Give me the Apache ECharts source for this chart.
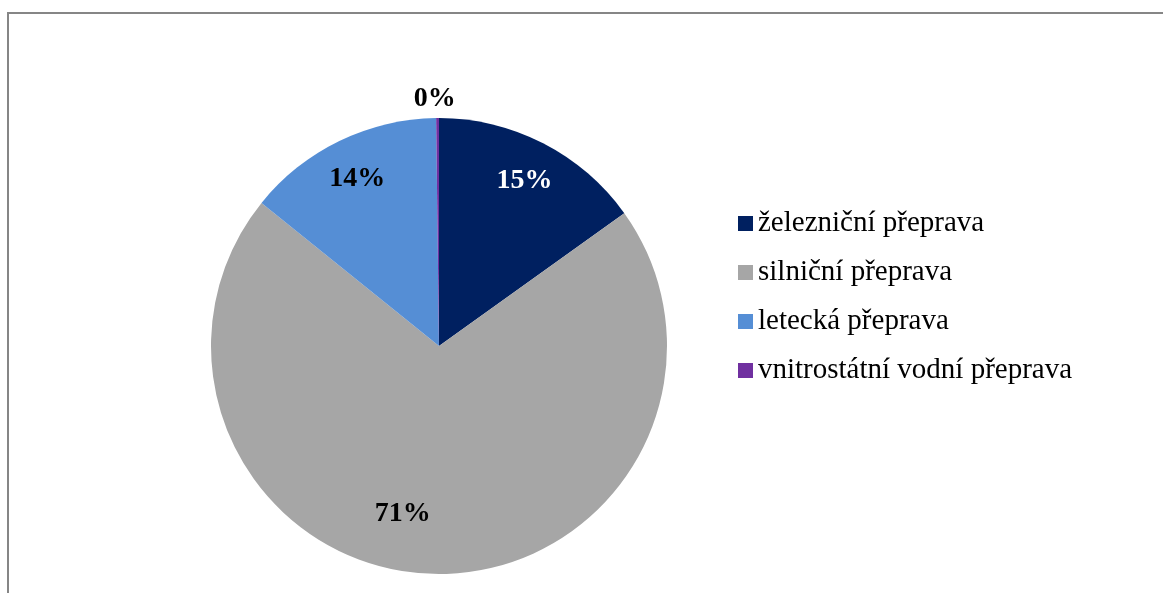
<!DOCTYPE html>
<html>
<head>
<meta charset="utf-8">
<script src="https://cdn.jsdelivr.net/npm/echarts@6/dist/echarts.min.js"></script>
<style>
  html, body { margin: 0; padding: 0; background: #fff; }
  #main { width: 1163px; height: 593px; }
</style>
</head>
<body>
<div id="main"></div>
<script>
// podíly druhů přepravy
const categories = ['železniční přeprava', 'silniční přeprava', 'letecká přeprava', 'vnitrostátní vodní přeprava'];
const values = [15.1, 70.7, 14.0, 0.2];
const colors = ['#002060', '#A6A6A6', '#558ED5', '#7030A0'];

const labelColors = ['#ffffff', '#000000', '#000000', '#000000'];
const labelOffsets = [[0, 1], [-31, -19], [0, 1], [-3, -60]];

let myChart = echarts.init(document.getElementById('main'));

const font = '"Liberation Serif", "Times New Roman", serif';

let option = {
  animation: false,
  graphic: [{
    type: 'rect',
    shape: { x: 8, y: 13, width: 1300, height: 800 },
    style: { fill: 'none', stroke: '#868686', lineWidth: 2 },
    silent: true
  }],
  legend: {
    orient: 'vertical',
    left: 733,
    top: 204,
    data: categories,
    icon: 'rect',
    itemWidth: 15,
    itemHeight: 15,
    itemGap: 20,
    textStyle: { fontFamily: font, fontSize: 29, color: '#000', lineHeight: 29 }
  },
  series: [
    {
      name: 'podíl',
      type: 'pie',
      center: [439, 346],
      radius: 228,
      startAngle: 90,
      clockwise: true,
      label: { show: false },
      labelLine: { show: false },
      itemStyle: { borderWidth: 0 },
      emphasis: { disabled: true },
      data: categories.map((c, i) => ({ name: c, value: values[i], itemStyle: { color: colors[i] } }))
    },
    {
      // průhledná vrstva jen pro popisky
      name: 'popisky',
      type: 'pie',
      center: [439, 346],
      radius: [140, 228],
      startAngle: 90,
      silent: true,
      legendHoverLink: false,
      itemStyle: { color: 'rgba(0,0,0,0)' },
      labelLine: { show: false },
      emphasis: { disabled: true },
      label: {
        show: true,
        position: 'inside',
        fontFamily: font,
        fontWeight: 'bold',
        fontSize: 28,
        formatter: p => Math.round(p.percent) + '%'
      },
      data: categories.map((c, i) => ({
        name: c + ' ',
        value: values[i],
        label: { color: labelColors[i], offset: labelOffsets[i] }
      }))
    }
  ]
};
myChart.setOption(option);
</script>
</body>
</html>
